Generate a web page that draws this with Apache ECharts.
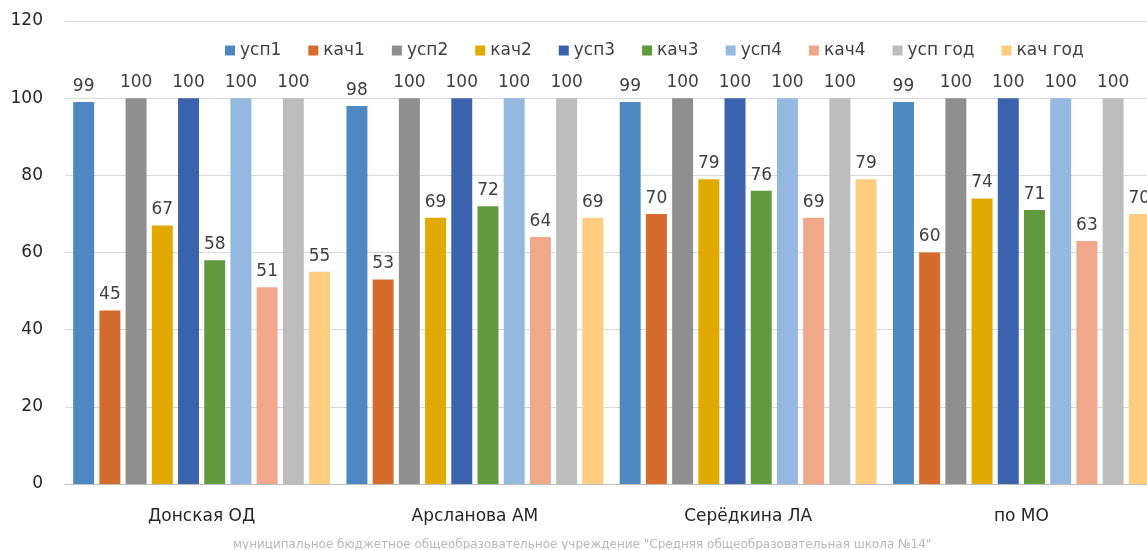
<!DOCTYPE html>
<html>
<head>
<meta charset="utf-8">
<script src="https://cdn.jsdelivr.net/npm/echarts@6/dist/echarts.min.js"></script>
<style>
  html, body { margin: 0; padding: 0; background: #ffffff; overflow: hidden; }
  #chart { width: 1162px; height: 550px; }
</style>
</head>
<body>
<div id="chart"></div>
<script>
// Teachers and the district average
const categories = ['Донская ОД', 'Арсланова АМ', 'Серёдкина ЛА', 'по МО'];

// Success rate (усп) and quality rate (кач) per quarter and for the year
const usp1   = [99, 98, 99, 99];
const kach1  = [45, 53, 70, 60];
const usp2   = [100, 100, 100, 100];
const kach2  = [67, 69, 79, 74];
const usp3   = [100, 100, 100, 100];
const kach3  = [58, 72, 76, 71];
const usp4   = [100, 100, 100, 100];
const kach4  = [51, 64, 69, 63];
const uspGod = [100, 100, 100, 100];
const kachGod = [55, 69, 79, 70];

const seriesNames = ['усп1', 'кач1', 'усп2', 'кач2', 'усп3', 'кач3', 'усп4', 'кач4', 'усп год', 'кач год'];
const seriesData = [usp1, kach1, usp2, kach2, usp3, kach3, usp4, kach4, uspGod, kachGod];
const seriesColors = ['#4e88c0', '#d36c2c', '#8f8f8f', '#e2a900', '#3b63ad', '#619a3e', '#95b8e0', '#f1a78a', '#bdbdbd', '#fecd80'];

const yTicks = { min: 0, max: 120, interval: 20 };

const footerText = 'муниципальное бюджетное общеобразовательное учреждение "Средняя общеобразовательная школа №14"';

const FONT = 'DejaVu Sans, Verdana, sans-serif';

const chart = echarts.init(document.getElementById('chart'));

const series = seriesNames.map((name, i) => ({
  name: name,
  type: 'bar',
  data: seriesData[i],
  itemStyle: { color: seriesColors[i] },
  barGap: '25%',
  barCategoryGap: '6%',
  label: {
    show: true,
    position: 'top',
    distance: 7,
    color: '#404040',
    fontSize: 17,
    fontFamily: FONT
  }
}));

chart.setOption({
  animation: false,
  backgroundColor: '#ffffff',
  textStyle: { fontFamily: FONT },
  legend: {
    left: 220,
    top: 37,
    itemWidth: 10,
    itemHeight: 10,
    itemGap: 27,
    icon: 'rect',
    textStyle: { color: '#404040', fontSize: 17, fontFamily: FONT },
    data: seriesNames
  },
  grid: {
    left: 65,
    top: 21,
    bottom: 66,
    width: 1093,
    containLabel: false
  },
  xAxis: {
    type: 'category',
    data: categories,
    axisTick: { show: false },
    axisLine: { lineStyle: { color: '#bfbfbf', width: 1 } },
    axisLabel: {
      color: '#262626',
      fontSize: 17,
      margin: 24,
      fontFamily: FONT
    }
  },
  yAxis: {
    type: 'value',
    min: yTicks.min,
    max: yTicks.max,
    interval: yTicks.interval,
    axisLine: { show: false },
    axisTick: { show: false },
    splitLine: { lineStyle: { color: '#d9d9d9', width: 1 } },
    axisLabel: {
      color: '#262626',
      fontSize: 17,
      margin: 22,
      padding: [4, 0, 0, 0],
      fontFamily: FONT
    }
  },
  graphic: [{
    type: 'text',
    left: 233,
    top: 539,
    style: {
      text: footerText,
      fill: '#b8b8b8',
      fontSize: 12,
      fontFamily: FONT
    }
  }],
  series: series
});
</script>
</body>
</html>
